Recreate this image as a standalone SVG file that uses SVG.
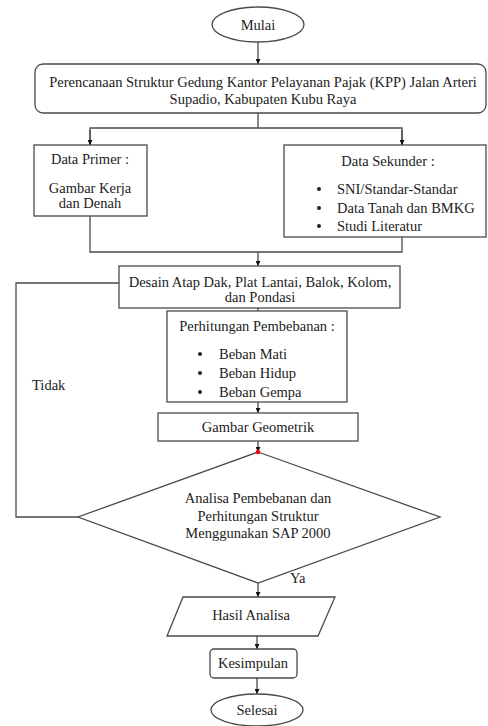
<svg xmlns="http://www.w3.org/2000/svg" width="488" height="726" viewBox="0 0 488 726" font-family="'Liberation Serif', 'Times New Roman', Tinos, 'DejaVu Serif', serif">
<style>
.s{fill:#fff;stroke:#4a4a4a;stroke-width:1.3}
.c{fill:none;stroke:#4a4a4a;stroke-width:1.3}
text{font-family:'Liberation Serif','Times New Roman',Tinos,'DejaVu Serif',serif;font-size:14.5px;fill:#222}
.m{text-anchor:middle}
</style>
<defs>
<marker id="a" viewBox="0 0 10 10" refX="10" refY="5" markerWidth="5" markerHeight="5" orient="auto" markerUnits="userSpaceOnUse">
<path d="M0,0L10,5L0,10z" fill="#111"/>
</marker>
</defs>
<rect width="488" height="726" fill="#fff"/>
<g id="connectors">
<line class="c" x1="258" y1="42" x2="258" y2="64" marker-end="url(#a)"/>
<polyline class="c" points="258,113 258,128"/>
<polyline class="c" points="90,145 90,128 402,128 402,145" />
<line class="c" x1="90" y1="130" x2="90" y2="145" marker-end="url(#a)"/>
<line class="c" x1="402" y1="130" x2="402" y2="145" marker-end="url(#a)"/>
<polyline class="c" points="90,216 90,252 402,252 402,237"/>
<line class="c" x1="258" y1="252" x2="258" y2="266" marker-end="url(#a)"/>
<line class="c" x1="258" y1="308" x2="258" y2="311"/>
<line class="c" x1="258" y1="402" x2="258" y2="413" marker-end="url(#a)"/>
<line class="c" x1="258" y1="441" x2="258" y2="452" marker-end="url(#a)"/>
<polyline class="c" points="119,283 16,283 16,517 78,517"/>
<line class="c" x1="258" y1="583" x2="258" y2="597" marker-end="url(#a)"/>
<line class="c" x1="257" y1="636" x2="257" y2="649" marker-end="url(#a)"/>
<line class="c" x1="257" y1="678" x2="257" y2="694" marker-end="url(#a)"/>
<text x="32" y="390">Tidak</text>
<text x="290" y="583">Ya</text>
</g>
<g id="mulai">
<ellipse class="s" cx="258" cy="24.5" rx="46" ry="17.5"/>
<text class="m" x="258" y="29.5">Mulai</text>
</g>
<g id="perencanaan">
<rect class="s" x="35" y="64" width="451" height="49" rx="8"/>
<text class="m" x="263" y="86.5">Perencanaan Struktur Gedung Kantor Pelayanan Pajak (KPP) Jalan Arteri</text>
<text class="m" x="263" y="103.5">Supadio, Kabupaten Kubu Raya</text>
</g>
<g id="primer">
<rect class="s" x="34" y="145" width="113" height="71"/>
<text class="m" x="90" y="164">Data Primer :</text>
<text class="m" x="90" y="192.5">Gambar Kerja</text>
<text class="m" x="90" y="208">dan Denah</text>
</g>
<g id="sekunder">
<rect class="s" x="284" y="145" width="202" height="92"/>
<text class="m" x="388" y="165.5">Data Sekunder :</text>
<circle cx="319" cy="189" r="2" fill="#222"/>
<circle cx="319" cy="208" r="2" fill="#222"/>
<circle cx="319" cy="226" r="2" fill="#222"/>
<text x="337" y="193.5">SNI/Standar-Standar</text>
<text x="337" y="212.5">Data Tanah dan BMKG</text>
<text x="337" y="230.5">Studi Literatur</text>
</g>
<g id="desain">
<rect class="s" x="119" y="266" width="281" height="42"/>
<text class="m" x="260" y="286.5">Desain Atap Dak, Plat Lantai, Balok, Kolom,</text>
<text class="m" x="260" y="302">dan Pondasi</text>
</g>
<g id="perhitungan">
<rect class="s" x="167" y="311" width="180" height="91"/>
<text class="m" x="257" y="330.5">Perhitungan Pembebanan :</text>
<circle cx="200" cy="354" r="2" fill="#222"/>
<circle cx="200" cy="373" r="2" fill="#222"/>
<circle cx="200" cy="392" r="2" fill="#222"/>
<text x="219" y="358.5">Beban Mati</text>
<text x="219" y="377.5">Beban Hidup</text>
<text x="219" y="396.5">Beban Gempa</text>
</g>
<g id="geometrik">
<rect class="s" x="158" y="413" width="200" height="28"/>
<text class="m" x="258" y="431.5">Gambar Geometrik</text>
</g>
<g id="analisa">
<polygon class="s" points="258,452 440,517 258,583 78,517"/>
<circle cx="258" cy="452" r="2.2" fill="#e00"/>
<text class="m" x="258" y="502.5">Analisa Pembebanan dan</text>
<text class="m" x="258" y="520.5">Perhitungan Struktur</text>
<text class="m" x="258" y="537.5">Menggunakan SAP 2000</text>
</g>
<g id="hasil">
<polygon class="s" points="183,597 335,597 318,636 167,636"/>
<text class="m" x="251" y="620">Hasil Analisa</text>
</g>
<g id="kesimpulan">
<rect class="s" x="210" y="649" width="87" height="29" rx="4"/>
<text class="m" x="253" y="668">Kesimpulan</text>
</g>
<g id="selesai">
<ellipse class="s" cx="257" cy="710" rx="46" ry="16"/>
<text class="m" x="257" y="715">Selesai</text>
</g>
</svg>
